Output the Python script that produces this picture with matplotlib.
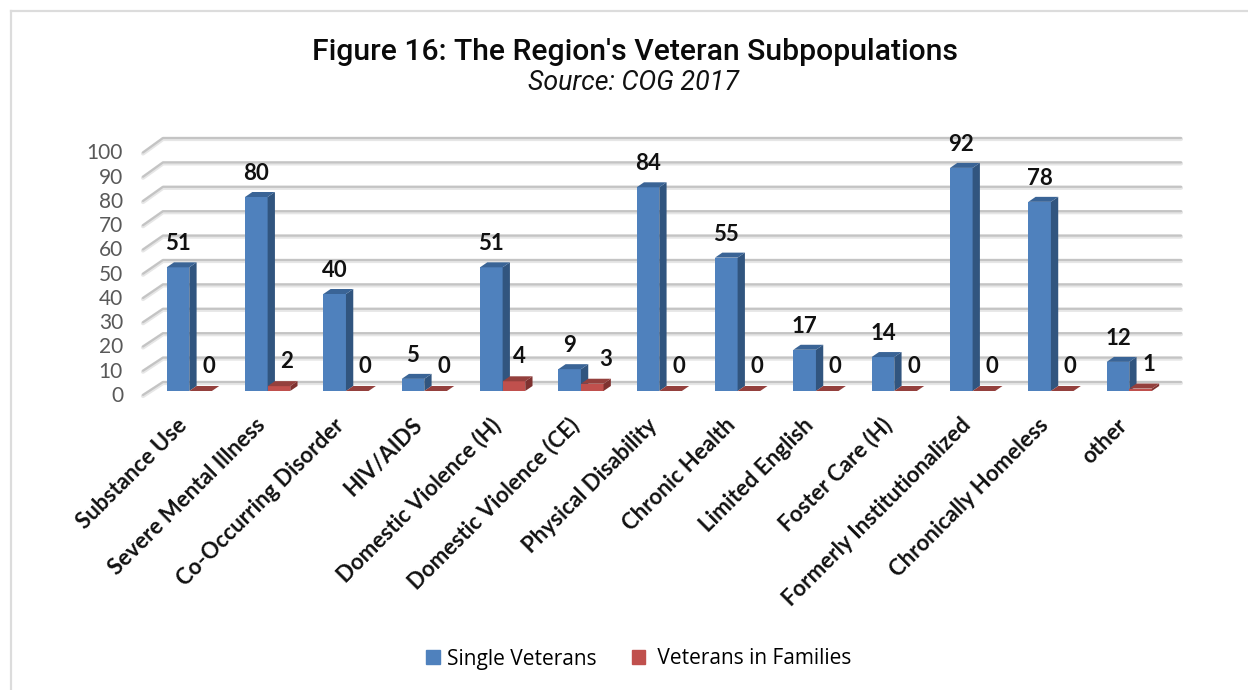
import matplotlib
matplotlib.use("Agg")
import matplotlib.pyplot as plt
from matplotlib.patches import Polygon, Patch

# values
categories = ["Substance Use", "Severe Mental Illness", "Co-Occurring Disorder", "HIV/AIDS",
              "Domestic Violence (H)", "Domestic Violence (CE)", "Physical Disability",
              "Chronic Health", "Limited English", "Foster Care (H)",
              "Formerly Institutionalized", "Chronically Homeless", "other"]
single_veterans = [51, 80, 40, 5, 51, 9, 84, 55, 17, 14, 92, 78, 12]
veterans_in_families = [0, 2, 0, 0, 4, 3, 0, 0, 0, 0, 0, 0, 1]
y_ticks = [0, 10, 20, 30, 40, 50, 60, 70, 80, 90, 100]

W, H = 1248, 690
fig = plt.figure(figsize=(W / 100, H / 100), dpi=100)

# axes: x in category units, y in chart values. pixel scale of the original is 78.33 px per category, 2.425 px per unit
px_x = 78.33
px_y = 2.425
x0_px = 166.7   # left edge of first blue bar
y0_px = 391     # baseline of bars
ax = fig.add_axes([0, 0, 1, 1])
ax.set_xlim(-x0_px / px_x, (W - x0_px) / px_x)
ax.set_ylim(-(H - y0_px) / px_y, y0_px / px_y)
ax.axis("off")

bar_w = 22.6 / px_x
dx = 7.3 / px_x    # depth of the bars
dy = 5 / px_y

# outer frame, only top and left visible
frame = "#dcdcdc"
fig.add_artist(plt.Line2D([11 / W, 11 / W], [0, 1 - 11 / H], color=frame, lw=1.6))
fig.add_artist(plt.Line2D([11 / W, 1], [1 - 11 / H, 1 - 11 / H], color=frame, lw=1.6))

# gridlines on the back wall and the slanted side wall
grid_left = (163 - x0_px) / px_x
grid_right = (1181 - x0_px) / px_x
front_left = (143 - x0_px) / px_x
for v in y_ticks:
    back = v * 2.44 / px_y + 9 / px_y
    front = v - 4 / px_y
    ax.plot([front_left, grid_left, grid_right], [front - 1 / px_y, back - 1 / px_y, back - 1 / px_y],
            color="#e6e6e6", lw=3, zorder=1, solid_capstyle="round", solid_joinstyle="round")
    ax.plot([front_left, grid_left, grid_right], [front, back, back],
            color="#c4c4c4", lw=1.6, zorder=1.1, solid_capstyle="round", solid_joinstyle="round")
    ax.text((123 - x0_px) / px_x, v - 2, str(v), ha="right", va="center",
            fontsize=15, color="#595959", family="Lato")


def bar3d(x, v, front, side, top, z):
    ax.bar(x, v, bar_w, align="edge", color=front, zorder=z, linewidth=0)
    ax.add_patch(Polygon([(x + bar_w, 0), (x + bar_w + dx, dy), (x + bar_w + dx, v + dy), (x + bar_w, v)],
                         facecolor=side, edgecolor="none", zorder=z))
    ax.add_patch(Polygon([(x, v), (x + dx, v + dy), (x + bar_w + dx, v + dy), (x + bar_w, v)],
                         facecolor=top, edgecolor="none", zorder=z))


# a couple of the red labels sit off the usual spot in the original
red_shift = {4: 5, 5: 13}

for i, name in enumerate(categories):
    bar3d(i, single_veterans[i], "#4f81bd", "#31557f", "#3a6496", 3 + i * 0.01)
    bar3d(i + bar_w, veterans_in_families[i], "#c0504d", "#7f3230", "#94403d", 3.005 + i * 0.01)

    ax.annotate(str(single_veterans[i]), (i + bar_w / 2, single_veterans[i]), xytext=(0, 17),
                textcoords="offset points", ha="center", va="center",
                fontsize=16, fontweight="bold", family="Lato", color="#111111", zorder=5)
    ax.annotate(str(veterans_in_families[i]), (i + bar_w * 1.5, veterans_in_families[i]),
                xytext=(red_shift.get(i, 8) * 0.72, 17.5), textcoords="offset points",
                ha="center", va="center", fontsize=16, fontweight="bold", family="Lato",
                color="#111111", zorder=5)

    # category labels, anchored at their top right end
    ax.text(i + bar_w - 0.07, -(422 - y0_px) / px_y, name, rotation=45, rotation_mode="anchor",
            ha="right", va="center", fontsize=16, fontweight="bold", family="Lato", color="#111111")

# title block
fig.text(635 / W, 1 - 52 / H, "Figure 16: The Region's Veteran Subpopulations", ha="center", va="center",
         fontsize=21.7, family="Roboto", fontweight="medium", color="#0a0a0a")
fig.text(634 / W, 1 - 83 / H, "Source: COG 2017", ha="center", va="center",
         fontsize=19.3, style="italic", family="Roboto", color="#111111")

handles = [Patch(color="#4f81bd", label="Single Veterans"), Patch(color="#c0504d", label=" Veterans in Families")]
fig.legend(handles=handles, loc="center", bbox_to_anchor=(639 / W, 1 - 659 / H), ncol=2, frameon=False,
           handlelength=0.65, handleheight=0.65, handletextpad=0.34, columnspacing=1.68,
           prop={"family": "Open Sans", "size": 15})

fig.savefig("out.png", dpi=100)
